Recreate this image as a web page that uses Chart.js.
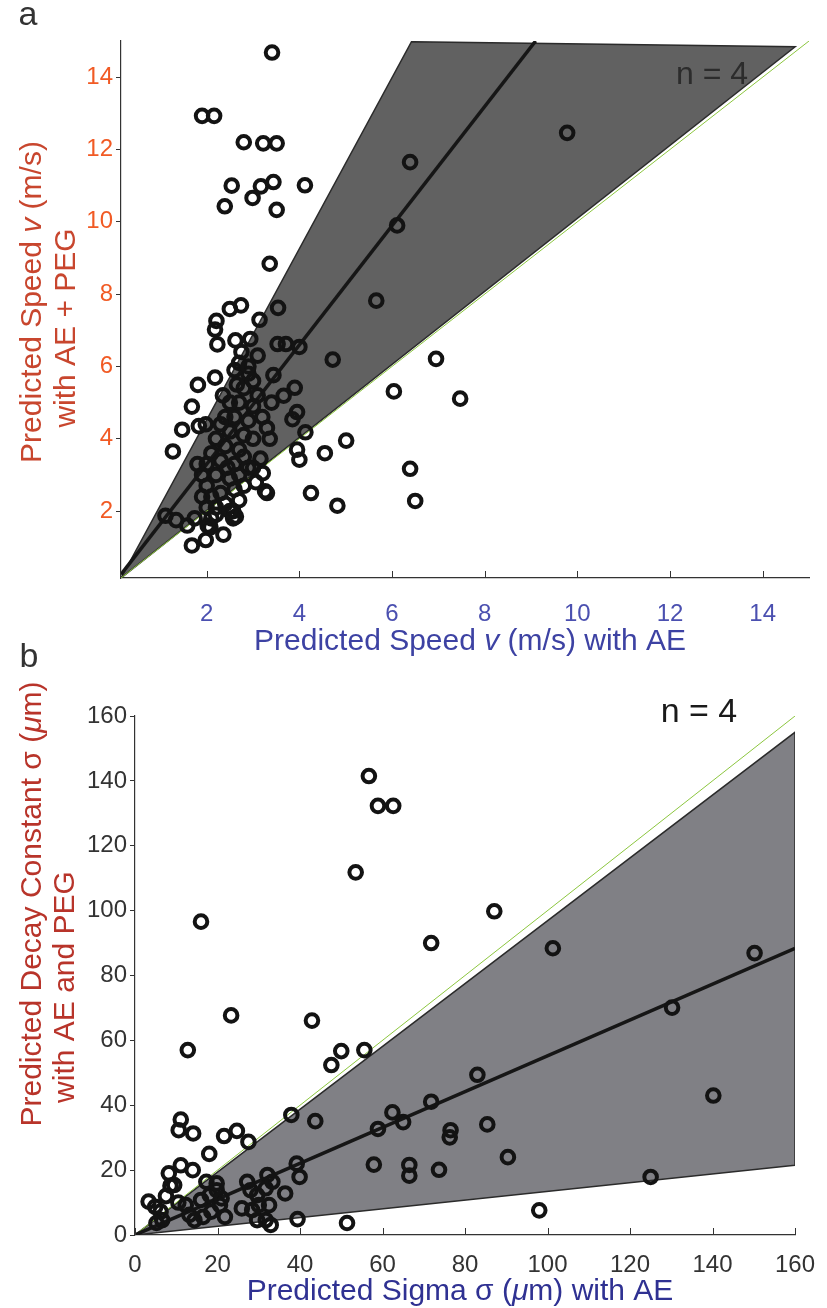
<!DOCTYPE html>
<html>
<head>
<meta charset="utf-8">
<script src="https://cdn.jsdelivr.net/npm/chart.js@4.4.1/dist/chart.umd.min.js"></script>
<style>
  body { margin: 0; background: #fff; width: 827px; height: 1308px; position: relative; overflow: hidden; }
  #wrapA { position: absolute; left: 0; top: 0; width: 827px; height: 680px; }
  #wrapB { position: absolute; left: 0; top: 630px; width: 827px; height: 678px; }
</style>
</head>
<body>
<div id="wrapA"><canvas id="chartA" width="827" height="680"></canvas></div>
<div id="wrapB"><canvas id="chartB" width="827" height="678"></canvas></div>
<script>
// Panel a: predicted speed (m/s), AE (x) vs AE + PEG (y)
const speedTicks = [2, 4, 6, 8, 10, 12, 14];
const speedPoints = [
  [3.41, 14.68], [1.90, 12.93], [2.16, 12.93], [2.80, 12.2], [3.22, 12.17], [3.51, 12.17],
  [9.78, 12.46], [6.39, 11.65], [2.54, 11.0], [3.17, 10.98], [3.44, 11.1], [4.12, 11.01],
  [2.99, 10.66], [2.39, 10.43], [3.51, 10.33], [6.11, 9.9], [3.36, 8.84], [5.66, 7.82],
  [2.50, 7.59], [2.74, 7.69], [3.54, 7.62], [2.21, 7.26], [3.14, 7.29], [2.18, 7.02],
  [2.23, 6.61], [2.62, 6.72], [2.94, 6.76], [3.53, 6.62], [3.71, 6.62], [4.0, 6.54],
  [4.72, 6.19], [6.95, 6.21], [2.18, 5.69], [1.81, 5.49], [3.44, 5.76], [6.04, 5.31],
  [7.47, 5.11], [3.90, 5.41], [3.66, 5.19], [1.68, 4.89], [3.95, 4.74], [3.85, 4.54],
  [1.47, 4.25], [1.83, 4.35], [1.98, 4.40], [4.13, 4.18], [3.36, 4.0], [1.27, 3.65],
  [3.95, 3.70], [4.0, 3.42], [4.55, 3.60], [5.01, 3.95], [6.39, 3.17], [4.25, 2.50],
  [4.82, 2.15], [6.50, 2.28], [1.11, 1.87], [1.34, 1.75], [1.68, 1.05], [1.98, 1.2],
  [2.36, 1.35], [2.57, 2.0], [2.57, 1.8], [2.08, 1.55], [1.58, 1.6], [3.21, 3.05],
  [3.16, 3.45], [3.26, 2.55], [3.06, 2.8], [3.0, 3.2], [3.3, 2.5],
  [2.2, 3.0], [2.3, 3.4], [2.4, 3.8], [2.5, 4.2], [2.6, 4.6], [2.7, 5.0], [2.8, 5.4],
  [2.9, 5.8], [2.6, 5.9], [2.7, 6.1], [2.4, 4.6], [2.3, 4.4], [2.5, 5.0], [2.2, 4.0],
  [2.1, 3.6], [2.0, 3.3], [1.9, 3.0], [1.8, 3.3], [2.0, 2.7], [2.1, 2.4], [2.2, 2.1],
  [2.3, 2.5], [2.5, 2.9], [2.6, 3.3], [2.7, 3.7], [2.8, 4.1], [2.9, 4.5], [3.0, 4.9],
  [3.1, 5.2], [3.2, 4.6], [3.0, 4.0], [2.8, 3.5], [2.7, 3.0], [2.6, 2.6], [2.4, 2.2],
  [2.1, 1.8], [2.0, 2.1], [1.9, 2.4], [2.9, 3.2], [3.3, 4.3], [3.4, 5.0], [3.1, 6.3],
  [2.9, 6.0], [3.0, 5.6], [2.75, 6.4], [2.65, 5.5], [2.35, 5.2], [2.45, 3.2], [2.8, 2.7],
  [2.7, 2.3], [2.63, 1.85], [2.2, 1.9], [2.5, 2.0], [1.74, 1.8], [2.02, 1.6]
];
const speedFit = [[0.15, 0.25], [9.1, 15]];
const speedUnity = [[0.15, 0.15], [15, 15]];
const speedBand = [[0.15, 0.15], [6.42, 14.98], [14.7, 14.84], [0.15, 0.15]];

// Panel b: predicted sigma (um), AE (x) vs AE and PEG (y)
const sigmaTicks = [0, 20, 40, 60, 80, 100, 120, 140, 160];
const sigmaPoints = [
  [56.7, 141.5], [58.9, 132.3], [62.6, 132.3], [53.5, 111.8], [87.1, 99.8], [16.0, 96.6],
  [71.8, 90.0], [101.3, 88.4], [150.2, 86.9], [130.2, 70.1], [23.3, 67.7], [42.9, 66.1],
  [12.8, 57.0], [50.0, 56.7], [55.6, 57.0], [47.6, 52.4], [83.0, 49.4], [140.2, 43.0],
  [71.8, 41.1], [37.9, 37.0], [43.7, 35.1], [62.4, 37.8], [65.0, 34.8], [58.9, 32.7],
  [85.4, 34.1], [76.5, 32.3], [76.3, 30.1], [11.1, 35.6], [10.6, 32.3], [14.1, 31.3],
  [21.6, 30.5], [24.7, 32.1], [27.5, 28.7], [18.0, 25.0], [90.4, 24.0], [57.9, 21.7],
  [66.5, 21.6], [66.5, 18.3], [73.7, 20.1], [125.0, 17.9], [98.0, 7.6], [51.4, 3.7],
  [39.4, 4.9], [39.9, 17.9], [39.2, 22.0], [36.4, 12.8],
  [8.2, 19.0], [11.1, 21.5], [14.0, 20.0], [9.5, 15.4], [3.3, 10.3], [4.9, 8.7],
  [6.6, 4.6], [6.2, 7.2], [12.3, 9.2], [13.2, 6.2], [14.4, 4.6], [16.5, 5.6],
  [16.0, 10.8], [18.1, 12.3], [19.8, 13.8], [20.6, 9.2], [18.5, 7.2], [21.8, 5.6],
  [17.3, 16.4], [19.8, 15.9], [21.0, 11.3], [27.2, 16.4], [28.0, 13.8], [29.6, 12.3],
  [32.1, 18.5], [31.7, 14.4], [33.3, 16.4], [25.9, 8.2], [28.4, 7.7], [29.6, 4.6],
  [31.7, 4.6], [32.9, 3.1], [32.5, 9.2], [30.0, 9.2], [8.6, 15.2], [5.2, 3.7],
  [7.5, 12.0], [10.5, 10.0]
];
const sigmaFit = [[0, 0], [160, 88.4]];
const sigmaUnity = [[0, 0], [160, 160]];
const sigmaBand = [[0, 0], [160, 155], [160, 21.5], [0, 0]];

const FONT = '"Liberation Sans", Arial, Helvetica, sans-serif';
const pts = a => a.map(p => ({ x: p[0], y: p[1] }));

// text with italic pieces, centred on (x, y), optionally rotated
function richText(ctx, parts, x, y, size, color, rotate) {
  ctx.save();
  ctx.translate(x, y);
  if (rotate) ctx.rotate(-Math.PI / 2);
  ctx.fillStyle = color;
  ctx.textBaseline = 'middle';
  ctx.textAlign = 'left';
  const fontOf = p => (p[1] ? 'italic ' : '') + size + 'px ' + FONT;
  const widths = parts.map(p => { ctx.font = fontOf(p); return ctx.measureText(p[0]).width; });
  let cx = -widths.reduce((a, b) => a + b, 0) / 2;
  parts.forEach((p, i) => { ctx.font = fontOf(p); ctx.fillText(p[0], cx, 0); cx += widths[i]; });
  ctx.restore();
}

function makeChart(id, cfg) {
  const labelsPlugin = {
    id: 'labels_' + id,
    afterDraw(chart) {
      const { ctx, chartArea, scales: { x } } = chart;
      // x ticks point into the plot
      ctx.save();
      ctx.strokeStyle = '#333';
      ctx.lineWidth = 1;
      x.ticks.forEach(t => {
        const px = Math.round(x.getPixelForValue(t.value)) + 0.5;
        ctx.beginPath();
        ctx.moveTo(px, chartArea.bottom);
        ctx.lineTo(px, chartArea.bottom - 7);
        ctx.stroke();
      });
      ctx.restore();
      cfg.texts.forEach(t => richText(ctx, t.parts, t.x, t.y, t.size, t.color, t.rotate));
    }
  };

  const scaleBase = (ticks, min, max, color, pad) => ({
    type: 'linear', min: min, max: max,
    afterBuildTicks: s => { s.ticks = ticks.map(v => ({ value: v })); },
    border: { display: true, color: '#333', width: 1.2 },
    ticks: { color: color, font: { family: FONT, size: 24 }, padding: pad, maxRotation: 0, autoSkip: false }
  });

  const xScale = scaleBase(cfg.ticks, cfg.min, cfg.max, cfg.xTickColor, cfg.xPad);
  xScale.grid = { display: false };
  xScale.afterFit = s => { s.height = 60; };
  const yScale = scaleBase(cfg.ticks, cfg.min, cfg.max, cfg.yTickColor, 3);
  yScale.grid = { display: true, drawOnChartArea: false, drawTicks: true, tickLength: 5, color: '#333' };
  yScale.afterFit = s => { s.width = cfg.yWidth; };

  return new Chart(document.getElementById(id), {
    type: 'scatter',
    data: {
      datasets: [
        { data: pts(cfg.points), order: 0, pointRadius: 6.3, pointBorderWidth: 4,
          pointBorderColor: '#131313', pointBackgroundColor: 'rgba(0,0,0,0)' },
        { type: 'line', data: pts(cfg.fit), order: 1, borderColor: '#161616', borderWidth: 3.5, pointRadius: 0 },
        { type: 'line', data: pts(cfg.unity), order: 2, borderColor: '#8cc63f', borderWidth: 1, pointRadius: 0 },
        { type: 'line', data: pts(cfg.band), order: 3, fill: 'shape', backgroundColor: cfg.bandColor,
          borderColor: '#2b2b2b', borderWidth: 1.5, pointRadius: 0, tension: 0 }
      ]
    },
    options: {
      responsive: false,
      animation: false,
      events: [],
      layout: { padding: cfg.padding },
      scales: { x: xScale, y: yScale },
      plugins: { legend: { display: false }, tooltip: { enabled: false } }
    },
    plugins: [labelsPlugin]
  });
}

makeChart('chartA', {
  points: speedPoints, fit: speedFit, unity: speedUnity, band: speedBand,
  ticks: speedTicks, min: 0.15, max: 15,
  bandColor: '#616161',
  xTickColor: '#4b50b0', yTickColor: '#f15a24', xPad: 14, yWidth: 60,
  padding: { left: 61, right: 18, top: 41, bottom: 42 },
  texts: [
    { parts: [['a', false]], x: 28, y: 16, size: 34, color: '#333', rotate: false },
    { parts: [['n = 4', false]], x: 712, y: 75, size: 32, color: '#2c2c2c', rotate: false },
    { parts: [['Predicted Speed ', false], ['v', true], [' (m/s) with AE', false]],
      x: 470, y: 642, size: 30, color: '#3d42a3', rotate: false },
    { parts: [['Predicted Speed ', false], ['v', true], [' (m/s)', false]],
      x: 33, y: 302, size: 30, color: '#c8462e', rotate: true },
    { parts: [['with AE + PEG', false]], x: 67, y: 328, size: 30, color: '#c8462e', rotate: true }
  ]
});

makeChart('chartB', {
  points: sigmaPoints, fit: sigmaFit, unity: sigmaUnity, band: sigmaBand,
  ticks: sigmaTicks, min: 0, max: 160,
  bandColor: '#808085',
  xTickColor: '#333', yTickColor: '#333', xPad: 8, yWidth: 70,
  padding: { left: 65, right: 32, top: 86, bottom: 13 },
  texts: [
    { parts: [['b', false]], x: 29, y: 28, size: 34, color: '#333', rotate: false },
    { parts: [['n = 4', false]], x: 699, y: 83, size: 34, color: '#1a1a1a', rotate: false },
    { parts: [['Predicted Sigma \u03c3 (', false], ['\u03bc', true], ['m) with AE', false]],
      x: 460, y: 662, size: 30, color: '#2f3192', rotate: false },
    { parts: [['Predicted Decay Constant \u03c3 (', false], ['\u03bc', true], ['m)', false]],
      x: 33, y: 274, size: 30, color: '#b8342a', rotate: true },
    { parts: [['with AE and PEG', false]], x: 66, y: 357, size: 30, color: '#b8342a', rotate: true }
  ]
});
</script>
</body>
</html>
